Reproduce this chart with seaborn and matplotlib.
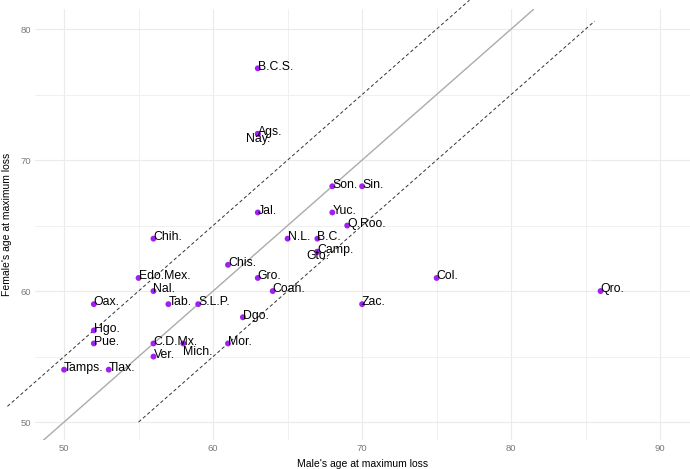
import matplotlib
matplotlib.use("Agg")
import matplotlib.pyplot as plt
import seaborn as sns
import pandas as pd
import numpy as np

# dados: idade na perda maxima (homens x mulheres) por estado
states = ["B.C.S.", "Ags.", "Nay.", "Son.", "Sin.", "Jal.", "Yuc.", "Q.Roo.",
          "Chih.", "N.L.", "B.C.", "Camp.", "Gto.", "Chis.", "Edo.Mex.", "Gro.",
          "Col.", "Nal.", "Coah.", "Qro.", "Oax.", "Tab.", "S.L.P.", "Zac.",
          "Dgo.", "Hgo.", "Pue.", "C.D.Mx.", "Mich.", "Mor.", "Ver.", "Tamps.", "Tlax."]
male = [63, 63, 63, 68, 70, 63, 68, 69,
        56, 65, 67, 67, 67, 61, 55, 63,
        75, 56, 64, 86, 52, 57, 59, 70,
        62, 52, 52, 56, 58, 61, 56, 50, 53]
female = [77, 72, 72, 68, 68, 66, 66, 65,
          64, 64, 64, 63, 63, 62, 61, 61,
          61, 60, 60, 60, 59, 59, 59, 59,
          58, 57, 56, 56, 56, 56, 55, 54, 54]

# rotulos que ficam deslocados para nao sobrepor
label_below_center = ["Nay.", "Gto."]
label_below_left = ["Mich."]

# linhas de referencia (y = x, y = x + 5, y = x - 5)
diag_x = [48.5, 81.5]
upper_x = [46.2, 77.2]
lower_x = [55.0, 85.6]
band = 5

df = pd.DataFrame({"state": states, "male": male, "female": female})

sns.set_theme(style="whitegrid")
plt.rcParams["font.family"] = ["Liberation Sans", "DejaVu Sans"]

fig = plt.figure(figsize=(6.9, 4.69), dpi=100)
ax = fig.add_axes([0.0507, 0.0618, 0.9493, 0.9190])

ax.plot(diag_x, diag_x, color="#ABABAB", lw=1.0, zorder=2)
ax.plot(upper_x, np.array(upper_x) + band, color="#333333", lw=0.7,
        ls=(0, (3.5, 2.5)), zorder=2, clip_on=False)
ax.plot(lower_x, np.array(lower_x) - band, color="#333333", lw=0.7,
        ls=(0, (3.5, 2.5)), zorder=2)

sns.scatterplot(data=df, x="male", y="female", color="#A020F0", s=18,
                edgecolor="none", ax=ax, zorder=3)

fs = 8.8
for _, r in df.iterrows():
    if r["state"] in label_below_center:
        ax.text(r["male"], r["female"] + 0.1, r["state"], ha="center", va="top",
                fontsize=fs, color="black", zorder=4)
    elif r["state"] in label_below_left:
        ax.text(r["male"], r["female"] - 0.2, r["state"], ha="left", va="top",
                fontsize=fs, color="black", zorder=4)
    else:
        ax.text(r["male"], r["female"] - 0.1, r["state"], ha="left", va="baseline",
                fontsize=fs, color="black", zorder=4)

ax.set_xlim(48.05, 92.0)
ax.set_ylim(48.63, 81.53)
ax.set_xticks([50, 60, 70, 80, 90])
ax.set_yticks([50, 60, 70, 80])
ax.set_xticks([55, 65, 75, 85], minor=True)
ax.set_yticks([55, 65, 75], minor=True)
ax.grid(which="major", color="#EBEBEB", lw=0.8)
ax.grid(which="minor", color="#F0F0F0", lw=0.7)
ax.set_facecolor("white")
for s in ax.spines.values():
    s.set_visible(False)
ax.tick_params(axis="both", which="both", length=0, labelsize=6.8,
               labelcolor="#7A7A7A", pad=3)

ax.set_xlabel("Male's age at maximum loss", fontsize=7.5, color="black", labelpad=4)
ax.set_ylabel("Female's age at maximum loss", fontsize=7.5, color="black", labelpad=6)

fig.savefig("out.png", dpi=100)
plt.close(fig)
